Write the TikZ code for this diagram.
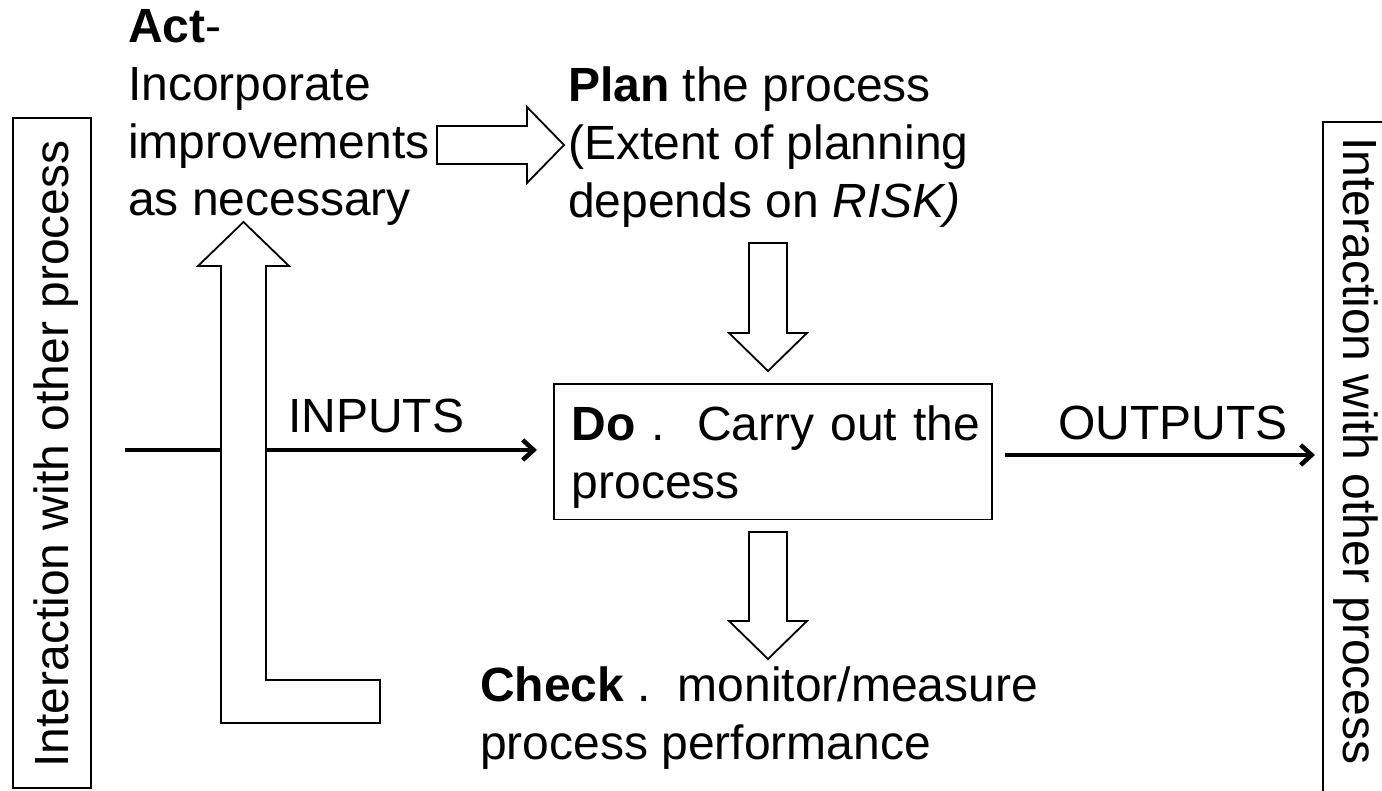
\documentclass[tikz,border=0pt]{standalone}
\usepackage{fontspec}
\setmainfont{Liberation Sans}
\usetikzlibrary{arrows.meta}
\begin{document}
\begin{tikzpicture}[x=1pt,y=-1pt,
  txt/.style={font=\fontsize{48}{57.6}\selectfont, inner sep=0pt, align=left},
  frame/.style={draw=black, line width=1.8pt, inner sep=0pt},
  blockarrow/.style={draw=black, fill=white, line width=1.8pt, line join=miter},
  flow/.style={line width=4.5pt, -{Straight Barb[length=11pt,width=20pt]}},
]
\useasboundingbox (0,0) rectangle (1382,791);

% side boxes
\node[frame, anchor=north west, minimum width=78pt, minimum height=670pt] (leftbox) at (12,117) {};
\node[frame, anchor=north west, minimum width=80pt, minimum height=700pt] (rightbox) at (1322,121) {};
\node[txt, rotate=90, anchor=base] (lefttext) at (68,454) {Interaction with other process};
\node[txt, rotate=-90, anchor=base] (righttext) at (1343,451) {Interaction with other process};

% texts
\node[txt, anchor=north west] (act) at (128,9.6) {\textbf{Act}-\\Incorporate\\improvements\\as necessary};
\node[txt, anchor=north west] (plan) at (568,67) {\textbf{Plan} the process\\(Extent of planning\\depends on \textit{RISK)}};
\node[txt, anchor=north west] (check) at (480,667) {\textbf{Check} .\ \ monitor/measure\\process performance};
\node[txt, anchor=base west] (inputs) at (288,433) {INPUTS};
\node[txt, anchor=base west] (outputs) at (1058,440) {OUTPUTS};

% do box
\node[frame, txt, anchor=north west, text width=402pt, inner xsep=18pt, inner ysep=0pt] (do) at (553,383)
  {\rule{0pt}{57pt}\mbox{\textbf{Do} .\ \ Carry out the}\\process\rule[-21pt]{0pt}{21pt}};

% flow lines
\coordinate (instart) at (125,450);
\draw[flow, shorten >=16pt] (instart) -- (instart -| do.west);
\draw[flow, shorten <=12pt, shorten >=7pt] (do.east |- 0,455) -- (rightbox.west |- 0,455);

% block arrows
\draw[blockarrow] (221,723) -- (380,723) -- (380,680) -- (266,680) -- (266,266) -- (289,266)
  -- (243.5,222) -- (198,266) -- (221,266) -- cycle;
\draw[blockarrow] (437,126) -- (527,126) -- (527,107) -- (564,145) -- (527,183) -- (527,164) -- (437,164) -- cycle;
\draw[blockarrow] (749,243) -- (787,243) -- (787,333) -- (807,333) -- (768,371) -- (729,333) -- (749,333) -- cycle;
\draw[blockarrow] (749,532) -- (787,532) -- (787,621) -- (807,621) -- (768,659) -- (729,621) -- (749,621) -- cycle;
\end{tikzpicture}
\end{document}
